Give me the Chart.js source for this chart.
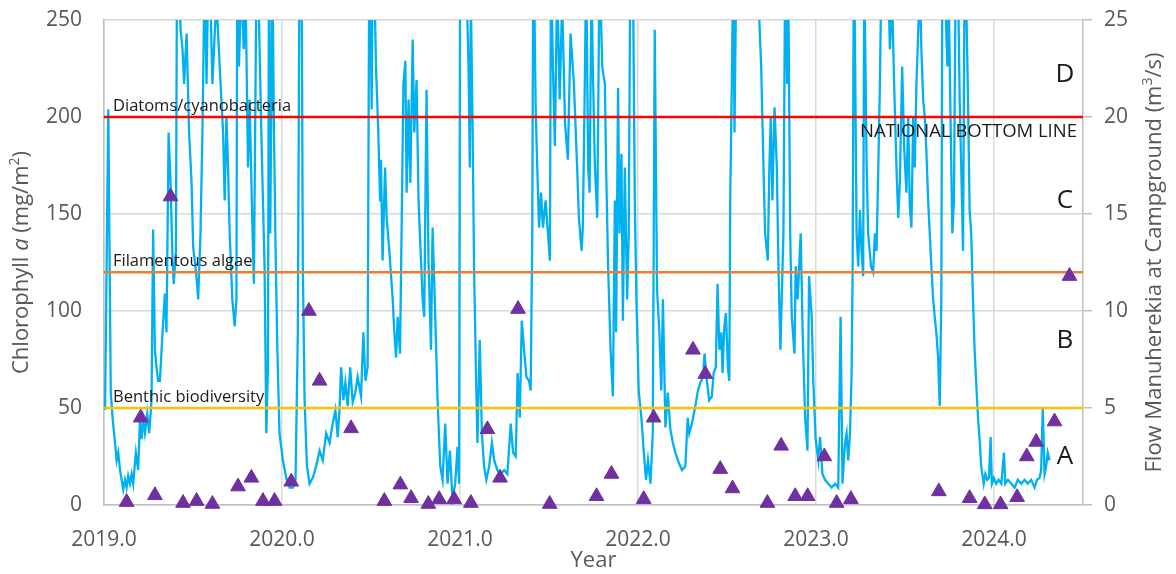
<!DOCTYPE html>
<html>
<head>
<meta charset="utf-8">
<script src="https://cdn.jsdelivr.net/npm/chart.js@4.4.1/dist/chart.umd.min.js"></script>
<style>
  html, body { margin: 0; padding: 0; background: #fff; }
  #wrap { width: 1176px; height: 574px; position: relative; }
</style>
</head>
<body>
<div id="wrap"><canvas id="flowChart"></canvas></div>
<script>
// Flow Manuherekia at Campground (m3/s)
const flowYear = [
  2019.006, 2019.024, 2019.038, 2019.049, 2019.062, 2019.071, 2019.080, 2019.090, 2019.099, 2019.108,
  2019.118, 2019.127, 2019.136, 2019.146, 2019.155, 2019.164, 2019.179, 2019.192, 2019.202, 2019.211,
  2019.220, 2019.230, 2019.243, 2019.254, 2019.267, 2019.276, 2019.286, 2019.295, 2019.304, 2019.314,
  2019.329, 2019.342, 2019.351, 2019.363, 2019.374, 2019.385, 2019.392, 2019.404, 2019.411, 2019.422,
  2019.430, 2019.441, 2019.450, 2019.464, 2019.478, 2019.492, 2019.501, 2019.516, 2019.529, 2019.542,
  2019.553, 2019.566, 2019.576, 2019.585, 2019.598, 2019.609, 2019.622, 2019.632, 2019.650, 2019.669,
  2019.678, 2019.688, 2019.697, 2019.706, 2019.721, 2019.734, 2019.744, 2019.749, 2019.758, 2019.772,
  2019.785, 2019.796, 2019.809, 2019.818, 2019.831, 2019.842, 2019.856, 2019.865, 2019.874, 2019.884,
  2019.893, 2019.902, 2019.912, 2019.921, 2019.927, 2019.934, 2019.946, 2019.955, 2019.964, 2019.974,
  2019.986, 2020.005, 2020.024, 2020.043, 2020.061, 2020.076, 2020.089, 2020.099, 2020.110, 2020.117,
  2020.127, 2020.140, 2020.155, 2020.173, 2020.192, 2020.211, 2020.229, 2020.248, 2020.267, 2020.285,
  2020.300, 2020.313, 2020.323, 2020.332, 2020.345, 2020.356, 2020.369, 2020.383, 2020.397, 2020.412,
  2020.425, 2020.444, 2020.457, 2020.469, 2020.481, 2020.491, 2020.504, 2020.509, 2020.519, 2020.528,
  2020.541, 2020.551, 2020.556, 2020.565, 2020.579, 2020.588, 2020.603, 2020.622, 2020.631, 2020.641,
  2020.650, 2020.663, 2020.674, 2020.682, 2020.693, 2020.700, 2020.711, 2020.721, 2020.734, 2020.743,
  2020.756, 2020.767, 2020.781, 2020.790, 2020.799, 2020.812, 2020.823, 2020.837, 2020.846, 2020.861,
  2020.874, 2020.889, 2020.902, 2020.917, 2020.930, 2020.943, 2020.958, 2020.973, 2020.986, 2020.995,
  2021.001, 2021.014, 2021.033, 2021.048, 2021.055, 2021.061, 2021.070, 2021.079, 2021.089, 2021.098,
  2021.111, 2021.123, 2021.135, 2021.148, 2021.164, 2021.179, 2021.192, 2021.210, 2021.229, 2021.248,
  2021.266, 2021.285, 2021.298, 2021.313, 2021.324, 2021.336, 2021.347, 2021.360, 2021.373, 2021.388,
  2021.397, 2021.406, 2021.412, 2021.425, 2021.434, 2021.444, 2021.455, 2021.466, 2021.481, 2021.494,
  2021.505, 2021.511, 2021.522, 2021.533, 2021.546, 2021.560, 2021.574, 2021.590, 2021.606, 2021.621,
  2021.640, 2021.658, 2021.668, 2021.683, 2021.690, 2021.700, 2021.709, 2021.720, 2021.728, 2021.739,
  2021.746, 2021.758, 2021.771, 2021.784, 2021.799, 2021.814, 2021.821, 2021.832, 2021.846, 2021.859,
  2021.870, 2021.877, 2021.888, 2021.896, 2021.907, 2021.915, 2021.926, 2021.939, 2021.948, 2021.958,
  2021.971, 2021.982, 2021.991, 2022.004, 2022.019, 2022.032, 2022.045, 2022.056, 2022.070, 2022.083,
  2022.094, 2022.107, 2022.120, 2022.131, 2022.140, 2022.154, 2022.167, 2022.182, 2022.196, 2022.210,
  2022.228, 2022.247, 2022.266, 2022.279, 2022.288, 2022.303, 2022.322, 2022.337, 2022.350, 2022.365,
  2022.374, 2022.387, 2022.400, 2022.415, 2022.425, 2022.437, 2022.447, 2022.457, 2022.468, 2022.475,
  2022.485, 2022.494, 2022.505, 2022.513, 2022.518, 2022.527, 2022.535, 2022.542, 2022.555, 2022.583,
  2022.621, 2022.658, 2022.677, 2022.692, 2022.705, 2022.714, 2022.729, 2022.738, 2022.746, 2022.755,
  2022.767, 2022.780, 2022.789, 2022.800, 2022.817, 2022.827, 2022.838, 2022.845, 2022.855, 2022.864,
  2022.879, 2022.886, 2022.897, 2022.914, 2022.925, 2022.939, 2022.952, 2022.961, 2022.976, 2022.985,
  2022.998, 2023.013, 2023.023, 2023.036, 2023.051, 2023.069, 2023.088, 2023.107, 2023.125, 2023.138,
  2023.149, 2023.163, 2023.172, 2023.181, 2023.191, 2023.200, 2023.206, 2023.213, 2023.228, 2023.237,
  2023.247, 2023.256, 2023.265, 2023.271, 2023.284, 2023.293, 2023.309, 2023.321, 2023.331, 2023.340,
  2023.350, 2023.359, 2023.368, 2023.406, 2023.415, 2023.428, 2023.439, 2023.452, 2023.462, 2023.471,
  2023.484, 2023.496, 2023.508, 2023.518, 2023.527, 2023.536, 2023.546, 2023.555, 2023.564, 2023.574,
  2023.583, 2023.592, 2023.602, 2023.611, 2023.620, 2023.630, 2023.639, 2023.648, 2023.658, 2023.667,
  2023.676, 2023.686, 2023.695, 2023.704, 2023.710, 2023.723, 2023.738, 2023.746, 2023.757, 2023.766,
  2023.775, 2023.785, 2023.798, 2023.807, 2023.816, 2023.826, 2023.835, 2023.844, 2023.854, 2023.863,
  2023.872, 2023.882, 2023.891, 2023.900, 2023.910, 2023.919, 2023.928, 2023.942, 2023.951, 2023.962,
  2023.972, 2023.981, 2023.988, 2023.999, 2024.012, 2024.026, 2024.041, 2024.056, 2024.063, 2024.078,
  2024.097, 2024.116, 2024.134, 2024.153, 2024.172, 2024.190, 2024.209, 2024.228, 2024.242, 2024.256,
  2024.265, 2024.274, 2024.284, 2024.293, 2024.302, 2024.312
];
const flowValue = [
  4.9, 20.4, 5.8, 4.4, 3.2, 2.3, 2.7, 1.8, 1.3, 0.8,
  1.3, 0.9, 1.5, 1.1, 1.6, 1.1, 2.7, 1.8, 4.4, 3.4,
  4.4, 3.7, 4.7, 3.7, 5.4, 14.2, 8.0, 7.1, 6.4, 6.4,
  8.9, 10.9, 8.9, 19.2, 16.6, 12.6, 11.4, 13.1, 30, 27,
  24.5, 23.5, 21.7, 24.3, 19.2, 16.6, 13.3, 12.1, 10.6, 14,
  19.2, 28, 21.7, 27, 26, 21.7, 24.3, 26, 22.6, 19.2,
  15.7, 20, 17.4, 14, 10.6, 9.2, 10.6, 30, 22.6, 27,
  23.5, 26, 17.4, 20.9, 15.4, 11.4, 27, 28, 23.5, 19.2,
  15.7, 12.3, 3.7, 7.1, 28, 14, 28, 19.2, 13.1, 8.0,
  3.7, 2.3, 1.4, 0.9, 0.9, 1.3, 8.9, 30, 28, 12.3,
  5.4, 2.0, 1.1, 1.4, 2.0, 2.8, 2.3, 3.7, 3.2, 4.2,
  4.9, 3.5, 4.9, 7.1, 5.4, 6.3, 5.1, 7.1, 5.3, 5.8,
  6.6, 5.6, 8.9, 6.4, 7.1, 30, 20.4, 28, 27, 22.6,
  19.2, 15.7, 17.8, 12.6, 17.4, 14.8, 13.1, 10.6, 8.9, 7.6,
  9.7, 7.8, 15.7, 21.7, 22.9, 16.1, 20.9, 16.6, 24, 19.2,
  21.9, 15.7, 12.6, 10.6, 9.7, 21.4, 12.6, 8.0, 14.3, 9.7,
  5.4, 2.0, 1.3, 4.2, 1.1, 2.8, 0.3, 1.1, 3.0, 1.1,
  30, 29, 28, 22.6, 17.4, 26, 20, 12.3, 7.1, 3.2,
  8.5, 3.7, 2.0, 1.3, 2.0, 3.2, 2.3, 1.8, 1.6, 1.8,
  1.6, 4.2, 2.7, 2.5, 6.8, 4.5, 9.5, 8.0, 6.6, 6.4,
  5.9, 14, 30, 20.5, 17.4, 14.3, 16.1, 14.3, 15.7, 14,
  12.6, 28, 22.6, 18.5, 27, 20.9, 26, 19.7, 17.8, 24.3,
  21.7, 17.4, 14.8, 13.1, 14.3, 20.9, 28, 17.4, 16.1, 27,
  22.6, 17.4, 14.8, 28, 22.6, 21.7, 17.4, 12.3, 8.0, 5.6,
  15.7, 8.9, 21.5, 14, 18.1, 9.5, 17.4, 10.6, 14, 30,
  28, 15.7, 10.6, 5.9, 4.5, 2.8, 1.3, 2.3, 1.1, 3.7,
  24.5, 11.1, 8.9, 5.9, 10.6, 4.0, 5.8, 3.9, 3.2, 2.7,
  2.2, 1.8, 2.0, 4.5, 3.7, 4.2, 5.1, 5.9, 6.3, 6.6,
  7.8, 6.4, 5.4, 5.6, 6.8, 7.1, 11.4, 8.0, 8.9, 6.8,
  9.2, 9.9, 7.1, 6.4, 15.7, 21.7, 28, 19.2, 30, 35,
  32, 30, 26, 22.6, 17.4, 14, 12.6, 17.4, 20, 15.7,
  20.5, 17.4, 12.3, 8.0, 14, 28, 21.7, 26, 14, 9.7,
  7.8, 12.3, 10.6, 14, 8.9, 4.5, 2.8, 11.8, 9.7, 6.3,
  3.4, 2.3, 3.5, 1.6, 1.3, 1.1, 0.9, 1.1, 0.9, 9.7,
  1.1, 3.2, 3.7, 2.3, 3.7, 6.8, 12.3, 30, 14, 12.3,
  15.2, 13.1, 11.8, 28, 17.8, 14, 12.3, 12, 14, 13.1,
  17.4, 21.7, 28, 27, 23.5, 26, 21.7, 17.4, 14.8, 16.6,
  22.6, 18.3, 16.1, 20, 15.4, 14.3, 20, 17.4, 21.7, 24.3,
  27, 23.5, 20.9, 20, 18.3, 15.7, 14, 12.3, 10.6, 9.7,
  8.9, 7.6, 5.1, 10.6, 28, 27, 22.6, 26, 19.2, 14,
  15.7, 28, 27, 20.9, 17.4, 13.1, 28, 26, 20.9, 15.2,
  14, 10.6, 8.0, 6.3, 4.5, 3.4, 2.0, 1.1, 1.6, 1.3,
  1.4, 3.5, 1.1, 1.4, 1.1, 1.3, 1.1, 2.7, 1.1, 1.3,
  1.1, 0.9, 1.3, 1.1, 1.3, 1.1, 1.3, 0.9, 1.3, 1.4,
  1.8, 5.0, 1.6, 2.0, 2.7, 2.3
];

// Chlorophyll a samples (mg/m2)
const sampleYear = [
  2019.127, 2019.206, 2019.286, 2019.374, 2019.444, 2019.520, 2019.609, 2019.753, 2019.828, 2019.893,
  2019.958, 2020.052, 2020.151, 2020.211, 2020.388, 2020.575, 2020.665, 2020.725, 2020.822, 2020.883,
  2020.967, 2021.061, 2021.154, 2021.225, 2021.326, 2021.504, 2021.767, 2021.851, 2022.032, 2022.088,
  2022.309, 2022.378, 2022.462, 2022.531, 2022.727, 2022.804, 2022.883, 2022.953, 2023.047, 2023.116,
  2023.196, 2023.690, 2023.863, 2023.948, 2024.037, 2024.130, 2024.184, 2024.237, 2024.340, 2024.424
];
const chlorophyll = [
  1.5, 45, 5, 159, 1, 2, 0.5, 9.5, 14, 2,
  2, 12, 100, 64, 39.5, 2, 10.5, 3.5, 0.5, 3,
  3, 1, 39, 14, 101, 0.5, 4.5, 16, 3, 45,
  80, 67.5, 18.5, 8.5, 1, 30.5, 4.5, 4.5, 25, 1,
  3, 7, 3.5, 0.3, 0.3, 4, 25, 32.5, 43, 118
];

// guideline thresholds (mg/m2) and grade bands
const thresholdValues = [200, 120, 50];
const thresholdNames = ['Diatoms/cyanobacteria', 'Filamentous algae', 'Benthic biodiversity'];
const gradeLetters = ['D', 'C', 'B', 'A'];
const gradeAt = [222, 157, 85, 25];

const xMin = 2019.0;
const xMax = 2024.5;

const flowPoints = flowYear.map((x, i) => ({ x: x, y: flowValue[i] }));
const samplePoints = sampleYear.map((x, i) => ({ x: x, y: chlorophyll[i] }));
const thresholdColors = ['#ff0000', '#ed7d31', '#ffc000'];

const thresholdSets = thresholdValues.map((v, i) => ({
  type: 'line',
  data: [{ x: xMin, y: v }, { x: xMax, y: v }],
  yAxisID: 'y',
  borderColor: thresholdColors[i],
  borderWidth: 2.5,
  pointRadius: 0,
  order: 1
}));

// draw a run of text pieces with different fonts (italic a, superscripts)
function drawParts(ctx, parts, cx, cy, angle) {
  ctx.save();
  ctx.translate(cx, cy);
  ctx.rotate(angle);
  ctx.textBaseline = 'middle';
  ctx.textAlign = 'left';
  let total = 0;
  parts.forEach(p => { ctx.font = p.font; p.w = ctx.measureText(p.t).width; total += p.w; });
  let x = -total / 2;
  parts.forEach(p => {
    ctx.font = p.font;
    ctx.fillText(p.t, x, p.dy || 0);
    x += p.w;
  });
  ctx.restore();
}

const textPlugin = {
  id: 'textPlugin',
  afterDatasetsDraw(chart) {
    const { ctx, chartArea, scales } = chart;
    ctx.save();
    ctx.fillStyle = '#1a1a1a';
    ctx.font = '16.5px "Open Sans"';
    ctx.textAlign = 'left';
    ctx.textBaseline = 'alphabetic';
    thresholdNames.forEach((name, i) => {
      const y = scales.y.getPixelForValue(thresholdValues[i]);
      ctx.fillText(name, chartArea.left + 9, y - 6);
    });
    ctx.textAlign = 'right';
    ctx.font = '18.5px "Open Sans"';
    ctx.fillText('NATIONAL BOTTOM LINE', chartArea.right - 6, scales.y.getPixelForValue(200) + 20);
    ctx.font = '26px "Open Sans"';
    ctx.textAlign = 'center';
    ctx.textBaseline = 'middle';
    gradeLetters.forEach((g, i) => {
      ctx.fillText(g, chartArea.right - 18, scales.y.getPixelForValue(gradeAt[i]));
    });
    ctx.restore();
  },
  afterDraw(chart) {
    const { ctx, chartArea } = chart;
    const mid = (chartArea.top + chartArea.bottom) / 2;
    const f = '22px "Open Sans"';
    const fi = 'italic 22px "Open Sans"';
    const fs = '14px "Open Sans"';
    ctx.save();
    ctx.fillStyle = '#595959';
    drawParts(ctx, [
      { t: 'Chlorophyll ', font: f },
      { t: 'a', font: fi },
      { t: ' (mg/m', font: f },
      { t: '2', font: fs, dy: -7 },
      { t: ')', font: f }
    ], 22, mid, -Math.PI / 2);
    drawParts(ctx, [
      { t: 'Flow Manuherekia at Campground (m', font: f },
      { t: '3', font: fs, dy: -7 },
      { t: '/s)', font: f }
    ], 1155, mid, -Math.PI / 2);
    drawParts(ctx, [{ t: 'Year', font: f }], (chartArea.left + chartArea.right) / 2, 561, 0);
    ctx.restore();
  }
};

Chart.defaults.font.family = '"Open Sans", sans-serif';
const tickFont = { size: 21 };
const gridColor = '#d9d9d9';

// tick padding would otherwise push the plot area down
function fixVertical(width) {
  return s => { s.width = width; s.paddingTop = 13; s.paddingBottom = 13; };
}

const ctx = document.getElementById('flowChart').getContext('2d');
new Chart(ctx, {
  type: 'scatter',
  data: {
    datasets: [
      {
        type: 'scatter',
        label: 'Chlorophyll a',
        data: samplePoints,
        yAxisID: 'y',
        pointStyle: 'triangle',
        pointRadius: 8.5,
        backgroundColor: '#7030a0',
        borderColor: '#7030a0',
        borderWidth: 1,
        clip: false,
        order: 0
      },
      ...thresholdSets,
      {
        type: 'line',
        label: 'Flow',
        data: flowPoints,
        yAxisID: 'y2',
        borderColor: '#00b0f0',
        borderWidth: 2.3,
        pointRadius: 0,
        tension: 0,
        clip: 0,
        order: 2
      }
    ]
  },
  options: {
    responsive: true,
    maintainAspectRatio: false,
    animation: false,
    layout: { padding: { top: 20, left: 0, right: 0, bottom: 0 } },
    plugins: {
      legend: { display: false },
      tooltip: { enabled: false }
    },
    scales: {
      x: {
        type: 'linear',
        min: xMin,
        max: xMax,
        afterFit: s => { s.height = 69; },
        ticks: {
          stepSize: 1,
          includeBounds: false,
          font: tickFont,
          color: '#595959',
          padding: 22,
          maxRotation: 0,
          callback: v => v.toFixed(1)
        },
        grid: { color: gridColor, lineWidth: 1.5, drawTicks: false },
        border: { color: '#bfbfbf', width: 1.5 }
      },
      y: {
        position: 'left',
        min: 0,
        max: 250,
        afterFit: fixVertical(104),
        ticks: { stepSize: 50, font: tickFont, color: '#595959', padding: 22 },
        grid: { color: gridColor, lineWidth: 1.5, drawTicks: false },
        border: { color: '#bfbfbf', width: 1.5 }
      },
      y2: {
        position: 'right',
        min: 0,
        max: 25,
        afterFit: fixVertical(93),
        ticks: { stepSize: 5, font: tickFont, color: '#595959', padding: 12 },
        grid: { drawOnChartArea: false, tickLength: 9, tickColor: '#bfbfbf', lineWidth: 1.5 },
        border: { color: '#bfbfbf', width: 1.5 }
      }
    }
  },
  plugins: [textPlugin]
});
</script>
</body>
</html>
